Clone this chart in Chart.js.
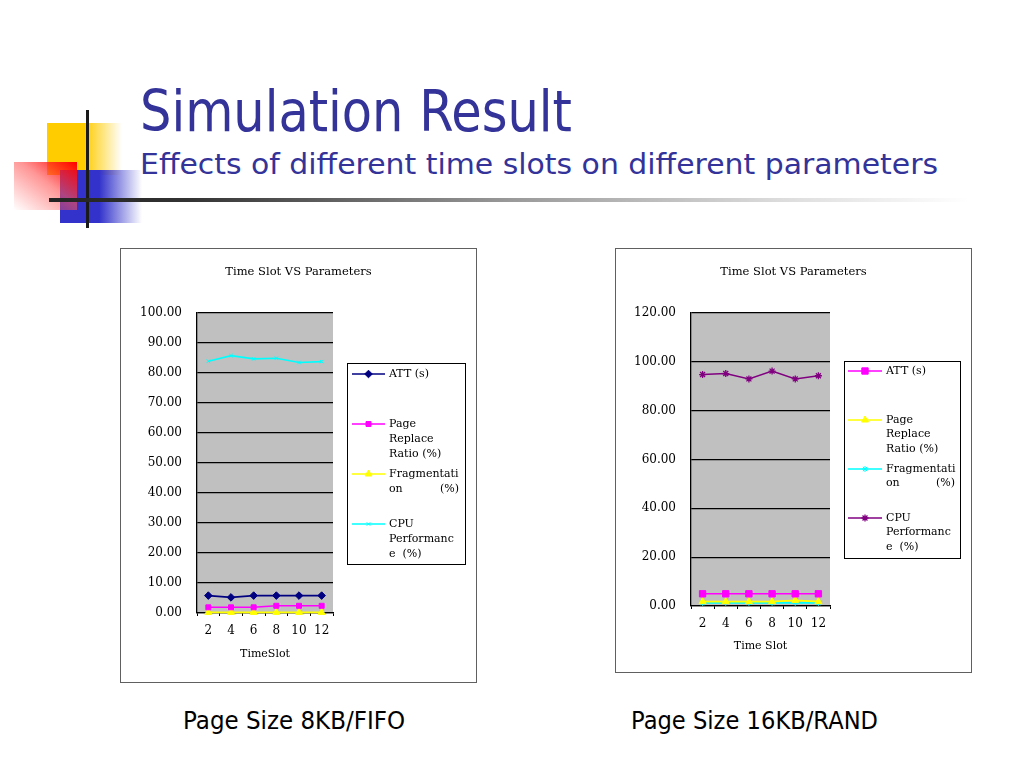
<!DOCTYPE html>
<html><head><meta charset="utf-8">
<script src="https://cdn.jsdelivr.net/npm/chart.js@4/dist/chart.umd.min.js"></script>
<style>
html,body{margin:0;padding:0;background:#fff}
body{width:1024px;height:768px;position:relative;overflow:hidden;font-family:"DejaVu Sans",sans-serif}
.t{position:absolute;white-space:nowrap;line-height:1;transform-origin:0 0}
.box{position:absolute;border:1px solid #606060;background:#fff}
.box canvas{display:block}
.deco{position:absolute}
</style></head>
<body>
<div class="deco" style="left:47px;top:123px;width:75px;height:52px;background:linear-gradient(to right,#FFCC00 0%,#FFCC00 50%,rgba(255,204,0,0) 100%)"></div>
<div class="deco" style="left:60px;top:170px;width:82px;height:53px;background:linear-gradient(to right,#3333CC 0%,#3333CC 48%,rgba(51,51,204,0) 100%)"></div>
<div class="deco" style="left:14px;top:162px;width:63px;height:48px;background:linear-gradient(to bottom left,#FF0000 0%,rgba(255,80,80,0.6) 45%,rgba(255,255,255,0) 100%)"></div>
<div class="deco" style="left:86px;top:110px;width:3px;height:118px;background:#1a1a1a"></div>
<div class="deco" style="left:49px;top:198px;width:920px;height:4px;background:linear-gradient(to right,#222 0%,#333 15%,#999 50%,#ddd 80%,rgba(255,255,255,0) 100%)"></div>

<div class="t" id="title" data-w="432" style="left:140px;top:83px;font-size:57px;color:#333399">Simulation Result</div>
<div class="t" id="sub" data-w="798" style="left:140px;top:150.6px;font-size:28px;color:#333399">Effects of different time slots on different parameters</div>

<div class="box" style="left:120px;top:248px;width:355px;height:433px"><canvas id="c1" width="355" height="433"></canvas></div>
<div class="box" style="left:615px;top:248px;width:355px;height:423px"><canvas id="c2" width="355" height="423"></canvas></div>

<div class="t" id="cap1" data-w="222" style="left:183px;top:709px;font-size:24px;color:#000">Page Size 8KB/FIFO</div>
<div class="t" id="cap2" data-w="247" style="left:631px;top:709px;font-size:24px;color:#000">Page Size 16KB/RAND</div>

<script>
// ---------- data ----------
const timeSlots = ['2', '4', '6', '8', '10', '12'];
const chartTitle = 'Time Slot VS Parameters';
const seriesNames = ['ATT (s)', 'Page Replace Ratio (%)', 'Fragmentation (%)', 'CPU Performance (%)'];
const legendLines = [['ATT (s)'], ['Page', 'Replace', 'Ratio (%)'], ['Fragmentati', 'on\t(%)'], ['CPU', 'Performanc', 'e  (%)']];

// Page Size 8KB / FIFO
const fifoXTitle = 'TimeSlot';
const fifoATT = [5.8, 5.2, 5.8, 5.8, 5.8, 5.8];
const fifoPageReplace = [1.9, 1.9, 1.9, 2.4, 2.4, 2.4];
const fifoFragmentation = [0.2, 0.2, 0.2, 0.2, 0.2, 0.2];
const fifoCPU = [83.9, 85.8, 84.7, 84.9, 83.5, 83.8];
const fifoYMax = 100, fifoYStep = 10;

// Page Size 16KB / RAND
const randXTitle = 'Time Slot';
const randATT = [5.0, 5.0, 5.0, 5.0, 5.0, 5.0];
const randPageReplace = [1.8, 1.8, 1.8, 1.8, 2.3, 1.8];
const randFragmentation = [1.3, 1.3, 1.3, 1.3, 1.3, 1.3];
const randCPU = [94.8, 95.2, 93.0, 96.2, 93.0, 94.3];
const randYMax = 120, randYStep = 20;

// ---------- plugins ----------
const plotBg = {
  id: 'plotBg',
  beforeDraw(chart) {
    const a = chart.chartArea, ctx = chart.ctx;
    ctx.save(); ctx.fillStyle = '#C0C0C0';
    ctx.fillRect(a.left, a.top, a.right - a.left, a.bottom - a.top);
    ctx.restore();
  }
};

const boxTitle = {
  id: 'boxTitle',
  afterDraw(chart, args, o) {
    const ctx = chart.ctx;
    ctx.save();
    ctx.font = o.font; ctx.fillStyle = '#000';
    ctx.textAlign = 'center'; ctx.textBaseline = 'middle';
    ctx.fillText(o.text, chart.width / 2, o.y);
    ctx.restore();
  }
};

const sideLegend = {
  id: 'sideLegend',
  afterDraw(chart, args, o) {
    const ctx = chart.ctx, a = chart.chartArea;
    const x0 = a.right + o.dx, y0 = a.top + o.dy;
    ctx.save();
    ctx.fillStyle = '#fff';
    ctx.fillRect(x0, y0, o.w, o.h);
    ctx.strokeStyle = '#000'; ctx.lineWidth = 1;
    ctx.strokeRect(x0 + 0.5, y0 + 0.5, o.w, o.h);
    ctx.font = o.font; ctx.textBaseline = 'middle'; ctx.fillStyle = '#000';
    chart.data.datasets.forEach((ds, i) => {
      const y = y0 + o.first + i * o.gap;
      ctx.strokeStyle = ds.borderColor; ctx.lineWidth = 1.5;
      ctx.beginPath(); ctx.moveTo(x0 + o.lineFrom, y); ctx.lineTo(x0 + o.lineTo, y); ctx.stroke();
      ctx.fillStyle = ds.pointBackgroundColor; ctx.strokeStyle = ds.pointBorderColor;
      ctx.lineWidth = ds.pointBorderWidth || 1;
      Chart.helpers.drawPoint(ctx, {pointStyle: ds.pointStyle, radius: ds.pointRadius, rotation: 0, borderWidth: ds.pointBorderWidth || 1}, x0 + (o.lineFrom + o.lineTo) / 2, y);
      ctx.fillStyle = '#000';
      legendLines[i].forEach((ln, k) => {
        const yy = y + k * o.lh;
        if (ln.indexOf('\t') >= 0) {
          const p = ln.split('\t');
          ctx.textAlign = 'left'; ctx.fillText(p[0], x0 + o.text, yy);
          ctx.textAlign = 'right'; ctx.fillText(p[1], x0 + o.w - o.rpad, yy);
        } else {
          ctx.textAlign = 'left'; ctx.fillText(ln, x0 + o.text, yy);
        }
      });
    });
    ctx.restore();
  }
};

function ds(label, data, color, style, radius, bw) {
  return {label, data, borderColor: color, backgroundColor: color, pointBackgroundColor: color,
    pointBorderColor: color, pointStyle: style, pointRadius: radius, pointHoverRadius: radius,
    pointBorderWidth: bw, borderWidth: 1.6, tension: 0, clip: false};
}

function makeChart(id, datasets, yMax, yStep, xTitle, L) {
  return new Chart(document.getElementById(id), {
    type: 'line',
    data: {labels: timeSlots, datasets},
    options: {
      responsive: false, animation: false, devicePixelRatio: 1,
      layout: {padding: {left: 0, right: L.right, top: 64, bottom: 0}},
      plugins: {
        legend: {display: false}, tooltip: {enabled: false}, title: {display: false},
        boxTitle: {text: chartTitle, y: 23, font: '11.5px "DejaVu Serif"'},
        sideLegend: L.legend
      },
      scales: {
        x: {
          offset: true,
          grid: {display: true, drawOnChartArea: false, drawTicks: true, tickLength: 3, color: '#000', offset: true},
          border: {display: true, color: '#000', width: 1.3},
          ticks: {color: '#000', padding: 7.5, font: {family: 'DejaVu Serif', size: 12}, maxRotation: 0, autoSkip: false},
          title: {display: true, text: xTitle, color: '#000', font: {family: 'DejaVu Serif', size: 11, lineHeight: 1.2}, padding: {top: 0, bottom: L.xTitleBottom}},
          afterFit: s => { s.height = L.xHeight; }
        },
        y: {
          min: 0, max: yMax,
          grid: {color: '#000', lineWidth: 1.3, drawTicks: false},
          border: {display: true, color: '#000', width: 1.3},
          ticks: {stepSize: yStep, color: '#000', padding: 15, font: {family: 'DejaVu Serif', size: 12},
            callback: v => Number(v).toFixed(2)},
          afterFit: s => { s.width = L.yWidth; }
        }
      }
    },
    plugins: [plotBg, boxTitle, sideLegend]
  });
}

makeChart('c1', [
  ds(seriesNames[0], fifoATT, '#000080', 'rectRot', 3.8, 1),
  ds(seriesNames[1], fifoPageReplace, '#FF00FF', 'rect', 3.5, 1),
  ds(seriesNames[2], fifoFragmentation, '#FFFF00', 'triangle', 4, 1),
  ds(seriesNames[3], fifoCPU, '#00FFFF', 'crossRot', 2.5, 1)
], fifoYMax, fifoYStep, fifoXTitle, {
  right: 143, xHeight: 69, xTitleBottom: 21.4, yWidth: 76,
  legend: {dx: 14, dy: 50, w: 118, h: 201, first: 11, gap: 50, lh: 15, lineFrom: 5, lineTo: 38, text: 42, rpad: 6, font: '11px "DejaVu Serif"'}
});

makeChart('c2', [
  ds(seriesNames[0], randATT, '#FF00FF', 'rect', 4.5, 1),
  ds(seriesNames[1], randPageReplace, '#FFFF00', 'triangle', 4, 1),
  ds(seriesNames[2], randFragmentation, '#00FFFF', 'star', 3, 1),
  ds(seriesNames[3], randCPU, '#800080', 'star', 3.5, 1.3)
], randYMax, randYStep, randXTitle, {
  right: 141, xHeight: 66, xTitleBottom: 19.4, yWidth: 75,
  legend: {dx: 14, dy: 48, w: 116, h: 197, first: 10, gap: 49, lh: 14.5, lineFrom: 4, lineTo: 38, text: 42, rpad: 5, font: '11px "DejaVu Serif"'}
});

// fit slide texts to their measured widths
document.querySelectorAll('.t[data-w]').forEach(el => {
  const w = el.getBoundingClientRect().width;
  el.style.transform = 'scaleX(' + (parseFloat(el.dataset.w) / w) + ')';
});
</script>
</body></html>
